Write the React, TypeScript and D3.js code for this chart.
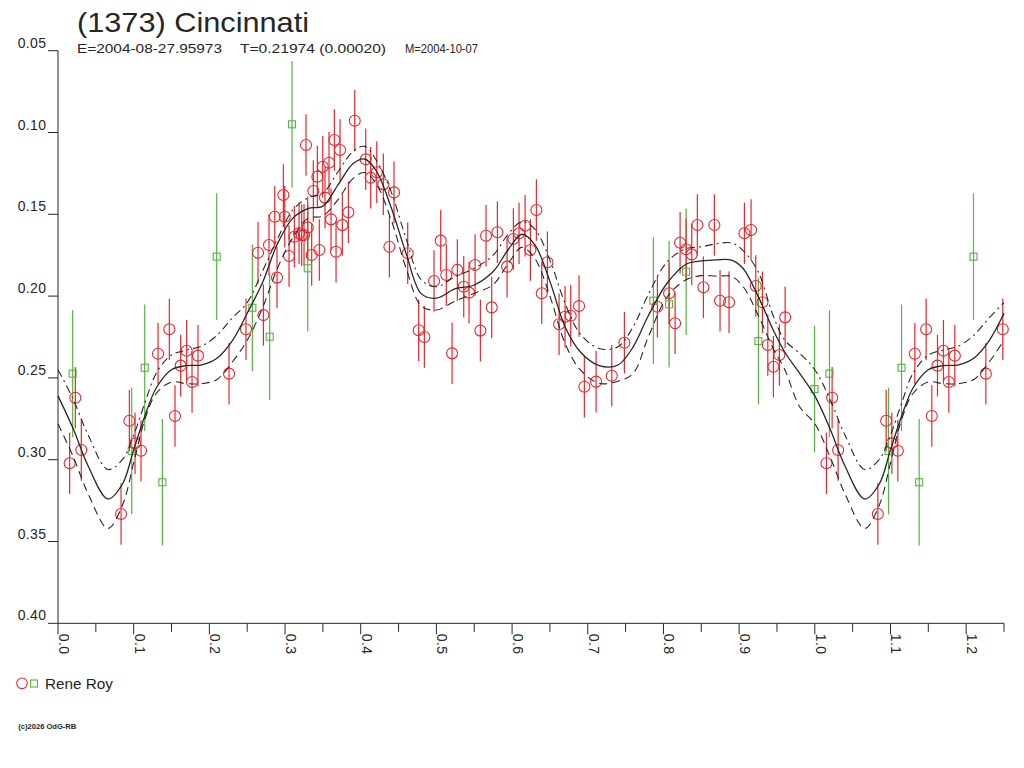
import React from 'react';
import * as d3 from 'd3';

// ---- Data (phase 0..1, magnitude) ----
const redPhase = [
  0.0154, 0.0229, 0.0308, 0.0833, 0.0943, 0.1018, 0.1097, 0.1322, 0.1471, 0.1546,
  0.1621, 0.1700, 0.1771, 0.1850, 0.2260, 0.2484, 0.2643, 0.2714, 0.2788, 0.2864,
  0.2894, 0.2978, 0.2996, 0.3053, 0.3123, 0.3185, 0.3220, 0.3251, 0.3300, 0.3277,
  0.3352, 0.3374, 0.3427, 0.3453, 0.3498, 0.3528, 0.3581, 0.3608, 0.3652, 0.3674,
  0.3727, 0.3757, 0.3837, 0.3921, 0.4066, 0.4132, 0.4212, 0.4299, 0.4379, 0.4440,
  0.4621, 0.4766, 0.4841, 0.4969, 0.5057, 0.5131, 0.5207, 0.5277, 0.5361, 0.5431,
  0.5511, 0.5581, 0.5656, 0.5731, 0.5806, 0.5934, 0.6017, 0.6092, 0.6172, 0.6242,
  0.6321, 0.6392, 0.6467, 0.6621, 0.6700, 0.6775, 0.6885, 0.6955, 0.7110, 0.7317,
  0.7484, 0.7920, 0.8075, 0.8154, 0.8220, 0.8300, 0.8374, 0.8448, 0.8528, 0.8673,
  0.8748, 0.8867, 0.9070, 0.9158, 0.9220, 0.9308, 0.9379, 0.9453, 0.9532, 0.9608,
];
const redMag = [
  0.3022, 0.2621, 0.2941, 0.3332, 0.2762, 0.2900, 0.2945, 0.2352, 0.2203, 0.2733,
  0.2425, 0.2334, 0.2525, 0.2364, 0.2474, 0.2203, 0.1735, 0.2116, 0.1688, 0.1515,
  0.1887, 0.1382, 0.1515, 0.1755, 0.1637, 0.1616, 0.1627, 0.1627, 0.1580, 0.1076,
  0.1749, 0.1358, 0.1270, 0.1718, 0.1209, 0.1398, 0.1185, 0.1531, 0.1046, 0.1729,
  0.1107, 0.1566, 0.1488, 0.0928, 0.1164, 0.1276, 0.1243, 0.1317, 0.1698, 0.1366,
  0.1738, 0.2209, 0.2250, 0.1908, 0.1661, 0.1871, 0.2350, 0.1840, 0.1943, 0.1979,
  0.1810, 0.2211, 0.1631, 0.2069, 0.1610, 0.1820, 0.1651, 0.1616, 0.1570, 0.1718,
  0.1474, 0.1983, 0.1793, 0.2172, 0.2126, 0.2120, 0.2061, 0.2554, 0.2523, 0.2487,
  0.2285, 0.2065, 0.1983, 0.2166, 0.1674, 0.1714, 0.1745, 0.1565, 0.1946, 0.1565,
  0.2028, 0.2038, 0.1616, 0.1596, 0.1938, 0.2038, 0.2299, 0.2432, 0.2360, 0.2130,
];
const redErr = 0.0188;

const greenPhase = [
  0.0194, 0.0974, 0.1146, 0.1379, 0.2097, 0.2568, 0.2797, 0.3092, 0.3300,
  0.7867, 0.8075, 0.8300, 0.9255, 0.9996,
];
const greenMag = [
  0.2474, 0.2947, 0.2438, 0.3138, 0.1759, 0.2071, 0.2248, 0.0950, 0.1830,
  0.2028, 0.2050, 0.1851, 0.2275, 0.2568,
];
const greenErr = 0.0387;

// ---- Fit curve and its envelope ----
const fitPhase = [
  0.00, 0.02, 0.04, 0.066, 0.085, 0.10, 0.115, 0.13, 0.15, 0.17,
  0.19, 0.21, 0.23, 0.25, 0.27, 0.29, 0.31, 0.33, 0.35, 0.37,
  0.39, 0.405, 0.42, 0.44, 0.46, 0.48, 0.50, 0.525, 0.55, 0.575,
  0.595, 0.613, 0.63, 0.65, 0.67, 0.69, 0.715, 0.74, 0.76, 0.78,
  0.805, 0.83, 0.85, 0.87, 0.89, 0.905, 0.925, 0.945, 0.96, 0.98, 1.00,
];
const fitMag = [
  0.2610, 0.2810, 0.3040, 0.3240, 0.3150, 0.2940, 0.2730, 0.2560, 0.2450, 0.2425,
  0.2420, 0.2380, 0.2275, 0.2105, 0.1920, 0.1680, 0.1525, 0.1465, 0.1450, 0.1320,
  0.1190, 0.1162, 0.1230, 0.1455, 0.1740, 0.1985, 0.2013, 0.1955, 0.1932, 0.1850,
  0.1715, 0.1622, 0.1685, 0.1910, 0.2187, 0.2340, 0.2425, 0.2421, 0.2310, 0.2120,
  0.1920, 0.1805, 0.1785, 0.1778, 0.1780, 0.1830, 0.2000, 0.2207, 0.2340, 0.2472, 0.2610,
];
const fitUpper = [
  0.2450, 0.2630, 0.2850, 0.3060, 0.3000, 0.2850, 0.2650, 0.2470, 0.2360, 0.2330,
  0.2305, 0.2240, 0.2135, 0.2040, 0.1850, 0.1650, 0.1475, 0.1400, 0.1370, 0.1240,
  0.1115, 0.1085, 0.1165, 0.1360, 0.1650, 0.1900, 0.1943, 0.1880, 0.1830, 0.1750,
  0.1620, 0.1545, 0.1590, 0.1780, 0.2044, 0.2230, 0.2320, 0.2310, 0.2187, 0.1990,
  0.1790, 0.1710, 0.1698, 0.1680, 0.1675, 0.1720, 0.1850, 0.2120, 0.2268, 0.2350, 0.2450,
];
const fitLower = [
  0.2780, 0.2980, 0.3210, 0.3420, 0.3280, 0.3020, 0.2750, 0.2594, 0.2525, 0.2535,
  0.2535, 0.2510, 0.2405, 0.2270, 0.2075, 0.1830, 0.1645, 0.1525, 0.1510, 0.1410,
  0.1280, 0.1245, 0.1310, 0.1530, 0.1830, 0.2060, 0.2085, 0.2030, 0.1983, 0.1930,
  0.1800, 0.1702, 0.1770, 0.2000, 0.2289, 0.2450, 0.2533, 0.2520, 0.2472, 0.2250,
  0.2004, 0.1900, 0.1875, 0.1878, 0.1880, 0.1940, 0.2115, 0.2320, 0.2445, 0.2676, 0.2780,
];

const xTickValues = [0, 0.1, 0.2, 0.3, 0.4, 0.5, 0.6, 0.7, 0.8, 0.9, 1.0, 1.1, 1.2];
const xTickLabels = ['0.0', '0.1', '0.2', '0.3', '0.4', '0.5', '0.6', '0.7', '0.8', '0.9', '1.0', '1.1', '1.2'];
const xMinorValues = [0.05, 0.15, 0.25, 0.35, 0.45, 0.55, 0.65, 0.75, 0.85, 0.95, 1.05, 1.15, 1.25];
const yTickValues = [0.05, 0.10, 0.15, 0.20, 0.25, 0.30, 0.35, 0.40];
const yTickLabels = ['0.05', '0.10', '0.15', '0.20', '0.25', '0.30', '0.35', '0.40'];

const title = '(1373) Cincinnati';
const subE = 'E=2004-08-27.95973';
const subT = 'T=0.21974 (0.00020)';
const subM = 'M=2004-10-07';
const observer = 'Rene Roy';
const footer = '(c)2026 OdG-RB';

const PHASE_MAX = 1.25;

const RED = '#e8262c';
const GREEN = '#55b443';
const INK = '#262626';
const FONT = '"Liberation Sans", Arial, Helvetica, sans-serif';

function wrapPoints(ph: number[], mg: number[]) {
  const out: { p: number; m: number }[] = [];
  ph.forEach((p, i) => {
    out.push({ p, m: mg[i] });
    if (p + 1 <= PHASE_MAX) out.push({ p: p + 1, m: mg[i] });
  });
  return out;
}

function wrapCurve(ph: number[], mg: number[]): [number, number][] {
  const out: [number, number][] = ph.map((p, i) => [p, mg[i]] as [number, number]);
  ph.forEach((p, i) => {
    if (p > 0 && p + 1 <= PHASE_MAX + 1e-9) out.push([p + 1, mg[i]]);
  });
  return out;
}

export default function App() {
  const x = d3.scaleLinear().domain([0, PHASE_MAX]).range([58, 1004]);
  const y = d3.scaleLinear().domain([0.05, 0.40]).range([50.7, 623.3]);

  const line = d3
    .line<[number, number]>()
    .x((d) => x(d[0]))
    .y((d) => y(d[1]))
    .curve(d3.curveCatmullRom.alpha(0.5));

  const reds = wrapPoints(redPhase, redMag);
  const greens = wrapPoints(greenPhase, greenMag);
  const mid = wrapCurve(fitPhase, fitMag);
  const up = wrapCurve(fitPhase, fitUpper);
  const lo = wrapCurve(fitPhase, fitLower);

  const y0 = y.range()[1];
  const sq = 7;

  return (
    <div style={{ position: 'absolute', left: 0, top: 0, width: 1024, height: 768, background: '#fff' }}>
      <svg width={1024} height={768} style={{ display: 'block' }} fontFamily={FONT}>
        <rect x={0} y={0} width={1024} height={768} fill="#fff" />

        {/* Title */}
        <text x={77} y={31.5} fontSize={28} fill={INK} textLength={232} lengthAdjust="spacingAndGlyphs">
          {title}
        </text>
        <text x={77} y={53} fontSize={13.5} fill={INK} textLength={145} lengthAdjust="spacingAndGlyphs">
          {subE}
        </text>
        <text x={240} y={53} fontSize={13.5} fill={INK} textLength={146} lengthAdjust="spacingAndGlyphs">
          {subT}
        </text>
        <text x={405} y={53} fontSize={13.5} fill={INK} textLength={73} lengthAdjust="spacingAndGlyphs">
          {subM}
        </text>

        {/* Y axis */}
        <line x1={x(0)} x2={x(0)} y1={y(0.05)} y2={y0} stroke={INK} strokeWidth={1} />
        {yTickValues.map((v, i) => (
          <g key={'yt' + i}>
            <line x1={x(0) - 10} x2={x(0)} y1={y(v)} y2={y(v)} stroke={INK} strokeWidth={1} />
            <text x={46.5} y={y(v) - 3} fontSize={14} fill={INK} textAnchor="end" letterSpacing={0.4}>
              {yTickLabels[i]}
            </text>
          </g>
        ))}

        {/* X axis */}
        <line x1={x(0)} x2={x(PHASE_MAX)} y1={y0} y2={y0} stroke={INK} strokeWidth={1} />
        {xTickValues.map((v, i) => (
          <g key={'xt' + i}>
            <line x1={x(v)} x2={x(v)} y1={y0} y2={y0 + 11} stroke={INK} strokeWidth={1} />
            <text
              transform={`translate(${x(v) + 1},${y0 + 10.5}) rotate(90)`}
              fontSize={14}
              fill={INK}
              letterSpacing={0.4}
            >
              {xTickLabels[i]}
            </text>
          </g>
        ))}
        {xMinorValues.map((v, i) => (
          <line key={'xm' + i} x1={x(v)} x2={x(v)} y1={y0} y2={y0 + 8.5} stroke={INK} strokeWidth={1} />
        ))}

        {/* Error bars */}
        {greens.map((d, i) => (
          <line
            key={'ge' + i}
            x1={x(d.p)}
            x2={x(d.p)}
            y1={y(d.m - greenErr)}
            y2={y(d.m + greenErr)}
            stroke={GREEN}
            strokeWidth={1.2}
          />
        ))}
        {reds.map((d, i) => (
          <line
            key={'re' + i}
            x1={x(d.p)}
            x2={x(d.p)}
            y1={y(d.m - redErr)}
            y2={y(d.m + redErr)}
            stroke={RED}
            strokeWidth={1.2}
          />
        ))}

        {/* Markers */}
        {greens.map((d, i) => (
          <rect
            key={'gm' + i}
            x={x(d.p) - sq / 2}
            y={y(d.m) - sq / 2}
            width={sq}
            height={sq}
            fill="none"
            stroke={GREEN}
            strokeWidth={1.1}
          />
        ))}
        {reds.map((d, i) => (
          <circle key={'rm' + i} cx={x(d.p)} cy={y(d.m)} r={5.5} fill="none" stroke={RED} strokeWidth={1.1} />
        ))}

        {/* Fit curves */}
        <path d={line(up) || ''} fill="none" stroke={INK} strokeWidth={1.1} strokeDasharray="8 4 2 4" />
        <path d={line(lo) || ''} fill="none" stroke={INK} strokeWidth={1.1} strokeDasharray="8 5" />
        <path d={line(mid) || ''} fill="none" stroke={INK} strokeWidth={1.3} />

        {/* Legend */}
        <circle cx={22} cy={683.3} r={5.3} fill="none" stroke={RED} strokeWidth={1.1} />
        <rect x={30.5} y={680} width={7} height={7} fill="none" stroke={GREEN} strokeWidth={1.1} />
        <text x={45} y={688.5} fontSize={15} fill={INK} textLength={68} lengthAdjust="spacingAndGlyphs">
          {observer}
        </text>

        {/* Footer */}
        <text x={18.3} y={728.5} fontSize={7.5} fill={INK} fontWeight="bold" textLength={58} lengthAdjust="spacingAndGlyphs">
          {footer}
        </text>
      </svg>
    </div>
  );
}
